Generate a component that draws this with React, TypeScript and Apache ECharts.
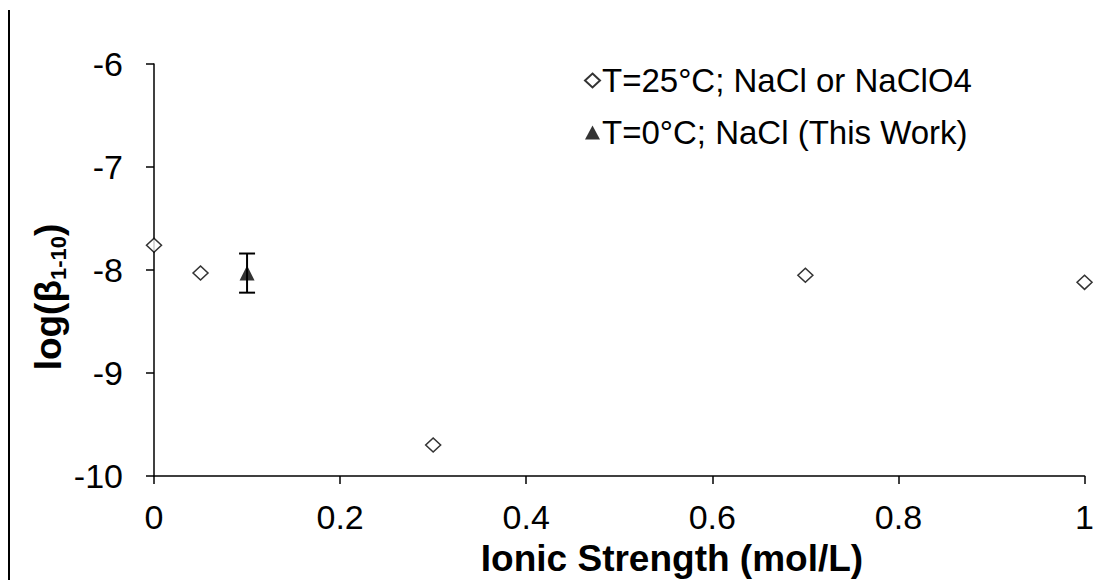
import React, { useEffect, useRef } from "react";
import * as echarts from "echarts";

// Data
const refX: number[] = [0, 0.05, 0.3, 0.7, 1.0];
const refY: number[] = [-7.76, -8.03, -9.7, -8.05, -8.12];

const workX: number[] = [0.1];
const workY: number[] = [-8.03];
const workLow: number[] = [-8.22];
const workHigh: number[] = [-7.84];

const seriesNames: string[] = ["T=25°C; NaCl or NaClO4", "T=0°C; NaCl (This Work)"];
const xTitle = "Ionic Strength (mol/L)";

const FONT = "'Liberation Sans', Arial, sans-serif";

export default function App() {
  const ref = useRef<HTMLDivElement>(null);

  useEffect(() => {
    if (!ref.current) return;
    const chart = echarts.init(ref.current, null, { renderer: "svg" });

    const refData = refX.map((x, i) => [x, refY[i]]);
    const workData = workX.map((x, i) => [x, workY[i]]);
    const errData = workX.map((x, i) => [x, workLow[i], workHigh[i]]);

    chart.setOption({
      animation: false,
      backgroundColor: "#ffffff",
      grid: { left: 154, right: 9, top: 64, bottom: 104, containLabel: false },
      xAxis: {
        type: "value",
        min: 0,
        max: 1,
        interval: 0.2,
        axisLine: { show: true, onZero: false, lineStyle: { color: "#000", width: 1.5 } },
        axisTick: { show: true, length: 8, lineStyle: { color: "#000", width: 1.5 } },
        axisLabel: {
          color: "#000",
          fontFamily: FONT,
          fontSize: 34,
          margin: 24,
          formatter: (v: number) => String(Math.round(v * 10) / 10),
        },
        splitLine: { show: false },
      },
      yAxis: {
        type: "value",
        min: -10,
        max: -6,
        interval: 1,
        axisLine: { show: true, onZero: false, lineStyle: { color: "#000", width: 1.5 } },
        axisTick: { show: true, length: 8, lineStyle: { color: "#000", width: 1.5 } },
        axisLabel: { color: "#000", fontFamily: FONT, fontSize: 34, margin: 31 },
        splitLine: { show: false },
      },
      legend: {
        orient: "vertical",
        left: 579,
        top: 59,
        itemWidth: 15,
        itemHeight: 14,
        itemGap: 19,
        textStyle: { color: "#000", fontFamily: FONT, fontSize: 33, padding: [0, 0, 0, -3] },
        data: seriesNames,
      },
      graphic: [
        {
          type: "line",
          shape: { x1: 9, y1: 10, x2: 9, y2: 580 },
          style: { stroke: "#000", lineWidth: 2 },
        },
        {
          type: "text",
          x: 672,
          y: 558,
          style: {
            text: xTitle,
            fontFamily: FONT,
            fontWeight: "bold",
            fontSize: 37,
            fill: "#000",
            align: "center",
            verticalAlign: "middle",
          },
        },
        {
          type: "text",
          x: 48,
          y: 297,
          rotation: Math.PI / 2,
          style: {
            text: "{a|log(β}{b|1-10}{a|)}",
            align: "center",
            verticalAlign: "middle",
            fill: "#000",
            rich: {
              a: { fontFamily: FONT, fontWeight: "bold", fontSize: 37, fill: "#000", lineHeight: 42 },
              b: {
                fontFamily: FONT,
                fontWeight: "bold",
                fontSize: 22,
                fill: "#000",
                verticalAlign: "bottom",
                lineHeight: 24,
              },
            },
          },
        },
      ],
      series: [
        {
          name: seriesNames[0],
          type: "scatter",
          data: refData,
          symbol: "diamond",
          symbolSize: [15, 14],
          itemStyle: { color: "#fff", borderColor: "#000", borderWidth: 1.5 },
          z: 3,
        },
        {
          name: seriesNames[1] + " err",
          type: "custom",
          data: errData,
          renderItem: (params: any, api: any) => {
            const x = api.value(0);
            const lo = api.coord([x, api.value(1)]);
            const hi = api.coord([x, api.value(2)]);
            const w = 8;
            const st = { stroke: "#000", lineWidth: 2 };
            return {
              type: "group",
              children: [
                { type: "line", shape: { x1: lo[0], y1: lo[1], x2: hi[0], y2: hi[1] }, style: st },
                { type: "line", shape: { x1: lo[0] - w, y1: lo[1], x2: lo[0] + w, y2: lo[1] }, style: st },
                { type: "line", shape: { x1: hi[0] - w, y1: hi[1], x2: hi[0] + w, y2: hi[1] }, style: st },
              ],
            };
          },
          z: 2,
        },
        {
          name: seriesNames[1],
          type: "scatter",
          data: workData,
          symbol: "triangle",
          symbolSize: [15, 15],
          itemStyle: { color: "#000" },
          z: 4,
        },
      ],
    });

    return () => chart.dispose();
  }, []);

  return (
    <div
      ref={ref}
      style={{ position: "fixed", left: 0, top: 0, width: 1097, height: 580, background: "#fff" }}
    />
  );
}
